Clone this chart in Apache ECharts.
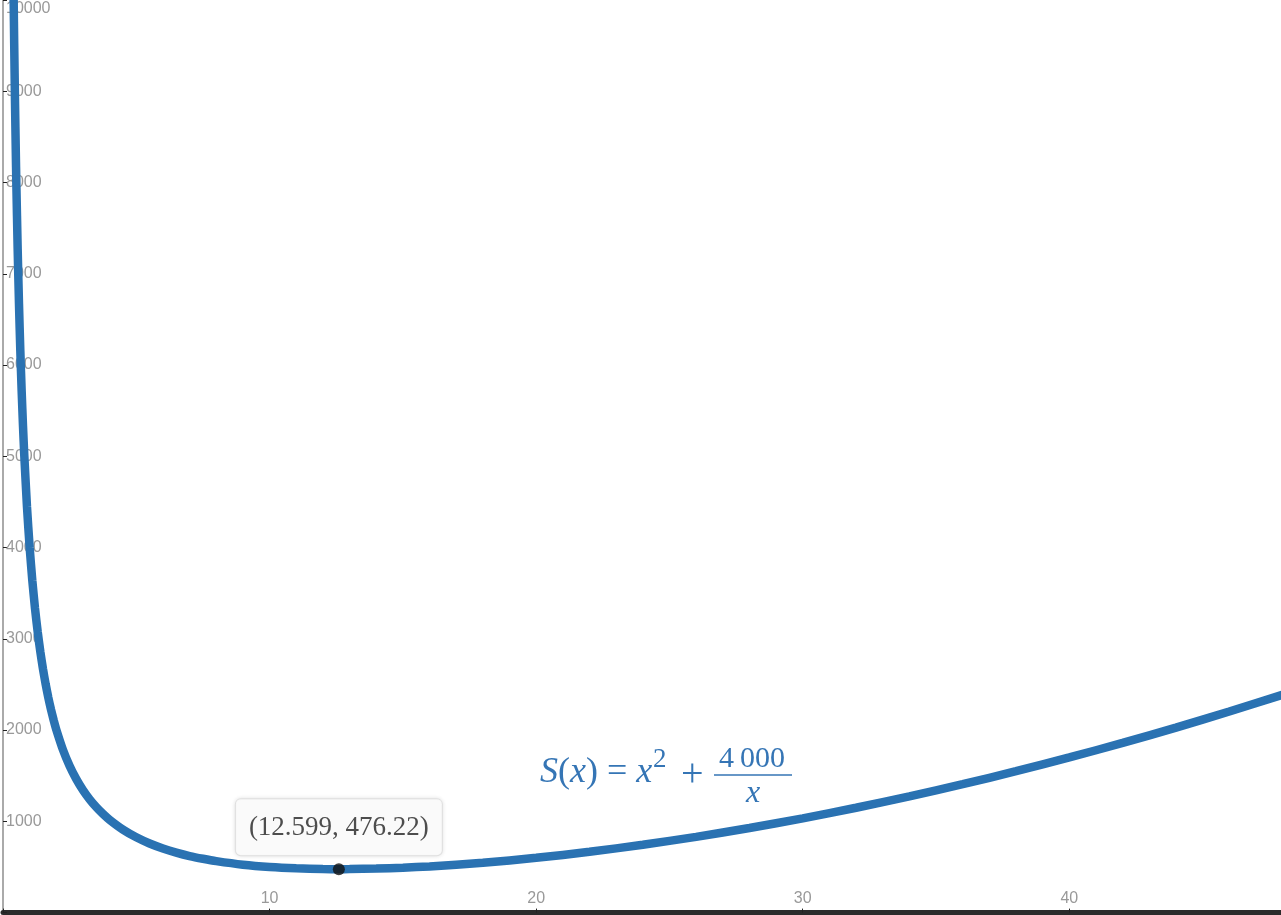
<!DOCTYPE html>
<html>
<head>
<meta charset="utf-8">
<script src="https://cdn.jsdelivr.net/npm/echarts@6/dist/echarts.min.js"></script>
<style>
  html, body { margin: 0; padding: 0; background: #fff; }
  #chart { width: 1281px; height: 915px; }
</style>
</head>
<body>
<div id="chart"></div>
<script>
// x values
const xs = [0.38, 0.4, 0.42, 0.45, 0.48, 0.5, 0.55, 0.6, 0.65, 0.7, 0.75, 0.8, 0.9, 1, 1.1, 1.2, 1.3, 1.4, 1.5, 1.6, 1.7, 1.8, 1.9, 2, 2.25, 2.5, 2.75, 3, 3.25, 3.5, 3.75, 4, 4.5, 5, 5.5, 6, 6.5, 7, 7.5, 8, 9, 10, 11, 12, 12.6, 13, 14, 15, 16, 18, 20, 22, 24, 26, 28, 30, 32, 34, 36, 38, 40, 42, 44, 46, 48]
// S(x) values
const ys = [10526, 10000, 9524, 8889, 8334, 8000, 7273, 6667, 6154, 5715, 5334, 5001, 4445, 4001, 3638, 3335, 3079, 2859, 2669, 2503, 2356, 2225, 2109, 2004, 1783, 1606, 1462, 1342, 1241, 1155, 1081, 1016, 909, 825, 757, 703, 658, 620, 590, 564, 525, 500, 485, 477, 476, 477, 482, 492, 506, 546, 600, 666, 743, 830, 927, 1033, 1149, 1274, 1407, 1549, 1700, 1859, 2027, 2203, 2387]
// the marked minimum
const minPoint = [12.599, 476.22]
const xTicks = [10, 20, 30, 40]
const yTicks = [1000, 2000, 3000, 4000, 5000, 6000, 7000, 8000, 9000, 10000]

const blue = '#2a72b2'
const formulaBlue = '#3575b5'
const serif = '"Liberation Serif", "DejaVu Serif", serif'
const sans = '"Liberation Sans", Arial, sans-serif'

const chart = echarts.init(document.getElementById('chart'))

chart.setOption({
  animation: false,
  backgroundColor: '#fff',
  grid: { left: 0, right: 0, top: -4, bottom: 2.4 },
  xAxis: {
    type: 'value',
    min: 0,
    max: 47.94,
    interval: 10,
    splitLine: { show: false },
    axisLine: { onZero: false, lineStyle: { color: '#2b2b2b', width: 5 } },
    axisTick: { inside: true, length: 4, lineStyle: { color: '#222' } },
    axisLabel: {
      inside: true,
      margin: 6,
      showMaxLabel: false,
      color: '#999',
      fontSize: 16,
      fontFamily: sans,
      formatter: v => (xTicks.indexOf(v) >= 0 ? String(v) : ''),
    },
  },
  yAxis: {
    type: 'value',
    min: 0,
    max: 10000,
    interval: 1000,
    splitLine: { show: false },
    axisLine: { onZero: false, lineStyle: { color: '#aaa', width: 2 } },
    axisTick: { inside: true, length: 4, lineStyle: { color: '#222' } },
    axisLabel: {
      inside: true,
      margin: 3,
      color: '#999',
      fontSize: 16,
      fontFamily: sans,
      formatter: v => {
        if (yTicks.indexOf(v) < 0) return ''
        return v === 10000 ? '{top|' + v + '}' : String(v)
      },
      rich: {
        top: { padding: [17, 0, 0, 0], color: '#999', fontSize: 16, fontFamily: sans },
      },
    },
  },
  series: [
    {
      type: 'line',
      data: xs.map((x, i) => [x, ys[i]]),
      smooth: 0.2,
      showSymbol: false,
      lineStyle: { color: blue, width: 8.5 },
      z: 3,
    },
    {
      type: 'scatter',
      data: [minPoint],
      symbolSize: 12,
      itemStyle: { color: '#111' },
      z: 4,
      label: {
        show: true,
        position: 'top',
        distance: 8,
        formatter: p => '(' + p.value[0] + ', ' + p.value[1] + ')',
        fontFamily: serif,
        fontSize: 27,
        color: '#222',
        backgroundColor: '#fff',
        borderColor: '#e4e4e4',
        borderWidth: 1,
        borderRadius: 5,
        padding: [15, 13, 14, 13],
        shadowColor: 'rgba(0,0,0,0.12)',
        shadowBlur: 4,
      },
    },
  ],
  graphic: [
    {
      type: 'group',
      z: 10,
      children: [
        {
          type: 'text', x: 540, y: 773,
          style: {
            text: '{i|S}({i|x}) = {i|x}',
            fill: formulaBlue, font: '36px ' + serif, verticalAlign: 'middle',
            rich: { i: { fontStyle: 'italic', fontFamily: serif, fontSize: 36, fill: formulaBlue } },
          },
        },
        {
          type: 'text', x: 653, y: 760,
          style: { text: '2', fill: formulaBlue, font: '27px ' + serif, verticalAlign: 'middle' },
        },
        {
          type: 'text', x: 681, y: 775,
          style: { text: '+', fill: formulaBlue, font: '40px ' + serif, verticalAlign: 'middle' },
        },
        {
          type: 'text', x: 752, y: 759,
          style: { text: '4\u2009000', fill: formulaBlue, font: '30px ' + serif, align: 'center', verticalAlign: 'middle' },
        },
        {
          type: 'line',
          shape: { x1: 714, y1: 775, x2: 792, y2: 775 },
          style: { stroke: formulaBlue, lineWidth: 1.5 },
        },
        {
          type: 'text', x: 753, y: 794,
          style: { text: 'x', fill: formulaBlue, font: 'italic 32px ' + serif, align: 'center', verticalAlign: 'middle' },
        },
      ],
    },
  ],
})
</script>
</body>
</html>
